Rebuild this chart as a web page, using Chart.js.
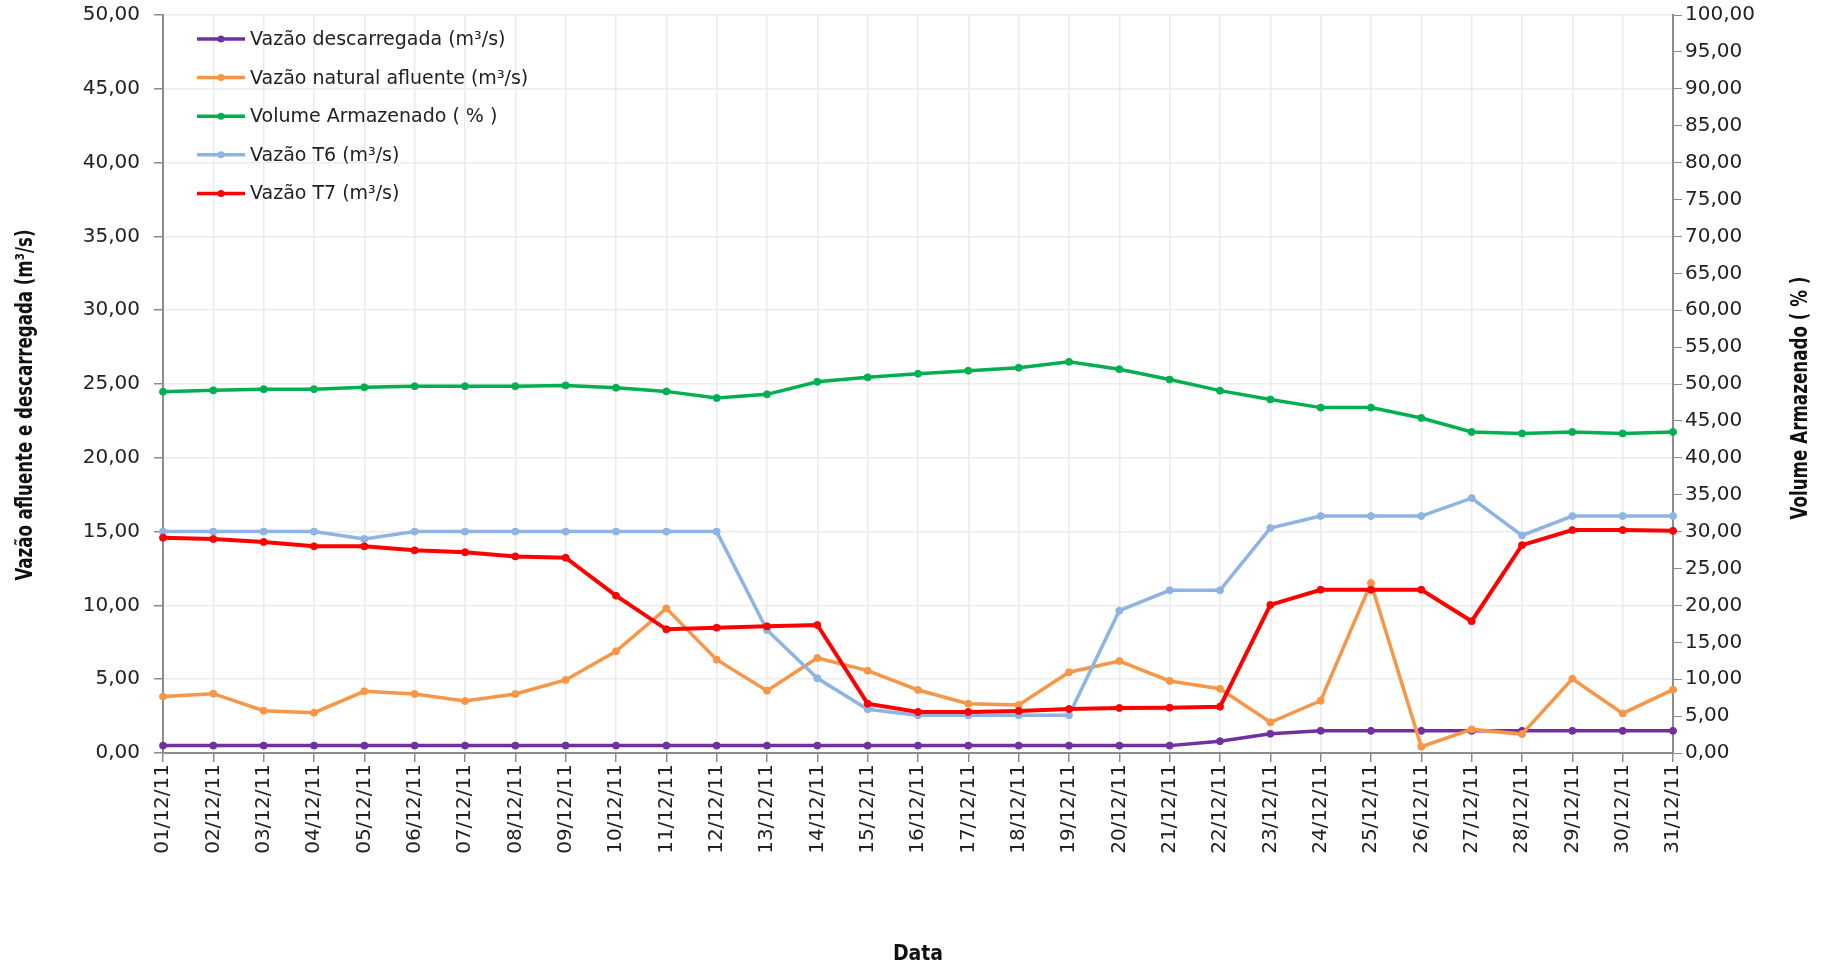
<!DOCTYPE html>
<html>
<head>
<meta charset="utf-8">
<title>Vazões e Volume Armazenado - Dezembro 2011</title>
<script src="https://cdn.jsdelivr.net/npm/chart.js@4.4.1/dist/chart.umd.min.js"></script>
<style>
  html, body { margin: 0; padding: 0; background: #ffffff; }
  #wrap { position: relative; width: 1822px; height: 970px; }
</style>
</head>
<body>
<div id="wrap"><canvas id="volumeChart" width="1822" height="970"></canvas></div>
<script>
const dias = [
  "01/12/11", "02/12/11", "03/12/11", "04/12/11", "05/12/11", "06/12/11", "07/12/11", "08/12/11",
  "09/12/11", "10/12/11", "11/12/11", "12/12/11", "13/12/11", "14/12/11", "15/12/11", "16/12/11",
  "17/12/11", "18/12/11", "19/12/11", "20/12/11", "21/12/11", "22/12/11", "23/12/11", "24/12/11",
  "25/12/11", "26/12/11", "27/12/11", "28/12/11", "29/12/11", "30/12/11", "31/12/11"
];

// m³/s (eixo esquerdo)
const vazaoDescarregada = [
  0.5, 0.5, 0.5, 0.5, 0.5, 0.5, 0.5, 0.5, 0.5, 0.5, 0.5, 0.5, 0.5, 0.5, 0.5, 0.5,
  0.5, 0.5, 0.5, 0.5, 0.5, 0.8, 1.3, 1.5, 1.5, 1.5, 1.5, 1.5, 1.5, 1.5, 1.5
];
const vazaoNatural = [
  3.82, 4.02, 2.87, 2.73, 4.18, 4.0, 3.52, 4.0, 4.95, 6.89, 9.8, 6.32, 4.22, 6.44, 5.58, 4.27,
  3.34, 3.25, 5.47, 6.23, 4.88, 4.35, 2.08, 3.54, 11.51, 0.43, 1.6, 1.28, 5.03, 2.68, 4.29
];
const vazaoT6 = [
  15, 15, 15, 15, 14.5, 15, 15, 15, 15, 15, 15, 15, 8.33, 5.06, 2.96, 2.55,
  2.55, 2.55, 2.55, 9.64, 11.02, 11.02, 15.24, 16.05, 16.05, 16.05, 17.27, 14.74, 16.05, 16.05, 16.05
];
const vazaoT7 = [
  14.59, 14.5, 14.3, 14.0, 14.0, 13.73, 13.6, 13.32, 13.23, 10.66, 8.38, 8.49, 8.58, 8.67, 3.34, 2.78,
  2.78, 2.85, 2.98, 3.05, 3.07, 3.14, 10.03, 11.06, 11.06, 11.06, 8.93, 14.08, 15.1, 15.1, 15.05
];

// % (eixo direito)
const volumeArmazenado = [
  48.96, 49.14, 49.3, 49.3, 49.55, 49.7, 49.7, 49.7, 49.8, 49.5, 49.0, 48.1, 48.6, 50.3, 50.9, 51.4,
  51.8, 52.2, 53.0, 52.0, 50.6, 49.1, 47.9, 46.8, 46.8, 45.4, 43.5, 43.3, 43.5, 43.3, 43.5
];

const tickFont = { family: "'DejaVu Sans', Verdana, sans-serif", size: 20 };
const titleFamily = "'DejaVu Sans Condensed', 'DejaVu Sans', sans-serif";
const gridColor = "#ebebeb";
const axisColor = "#8c8c8c";

function formatBR(value) {
  return Number(value).toFixed(2).replace(".", ",");
}

function serie(label, data, color, axis, order, width) {
  return {
    label: label,
    data: data,
    yAxisID: axis,
    order: order,
    borderColor: color,
    backgroundColor: color,
    borderWidth: width,
    pointRadius: 3.5,
    pointBorderWidth: 1,
    pointBackgroundColor: color,
    pointBorderColor: color,
    tension: 0,
    fill: false,
  };
}

// legenda desenhada dentro da área do gráfico, canto superior esquerdo
const innerLegend = {
  id: "innerLegend",
  afterDraw(chart) {
    const ctx = chart.ctx;
    const area = chart.chartArea;
    ctx.save();
    ctx.font = "19px 'DejaVu Sans', Verdana, sans-serif";
    ctx.textBaseline = "middle";
    ctx.textAlign = "left";
    chart.data.datasets.forEach((ds, i) => {
      const y = area.top + 24 + i * 38.6;
      const x0 = area.left + 34;
      ctx.strokeStyle = ds.borderColor;
      ctx.lineWidth = 3.5;
      ctx.beginPath();
      ctx.moveTo(x0, y);
      ctx.lineTo(x0 + 48, y);
      ctx.stroke();
      ctx.fillStyle = ds.borderColor;
      ctx.beginPath();
      ctx.arc(x0 + 24, y, 3.5, 0, Math.PI * 2);
      ctx.fill();
      ctx.fillStyle = "#222222";
      ctx.fillText(ds.label, x0 + 53, y + 1);
    });
    ctx.restore();
  },
};

// títulos verticais estreitos, lidos de baixo para cima como no original
function drawVerticalTitle(ctx, text, cx, cy, length) {
  ctx.save();
  ctx.translate(cx, cy);
  ctx.rotate(-Math.PI / 2);
  ctx.font = "bold 23px " + titleFamily;
  const w = ctx.measureText(text).width;
  ctx.scale(length / w, 1);
  ctx.fillStyle = "#111111";
  ctx.textAlign = "center";
  ctx.textBaseline = "middle";
  ctx.fillText(text, 0, 0);
  ctx.restore();
}

const axisTitles = {
  id: "axisTitles",
  afterDraw(chart) {
    const ctx = chart.ctx;
    drawVerticalTitle(ctx, "Vazão afluente e descarregada (m³/s)", 26, 405, 351);
    drawVerticalTitle(ctx, "Volume Armazenado ( % )", 1801, 398, 243);
  },
};

// largura fixa do eixo e sem folga extra no topo
function fixWidth(width) {
  return function (scale) {
    scale.width = width;
    scale.paddingTop = 0;
    scale.paddingBottom = 0;
  };
}

const ctx = document.getElementById("volumeChart").getContext("2d");

new Chart(ctx, {
  type: "line",
  data: {
    labels: dias,
    datasets: [
      serie("Vazão descarregada (m³/s)", vazaoDescarregada, "#7030a0", "y", 4, 3.5),
      serie("Vazão natural afluente (m³/s)", vazaoNatural, "#f79646", "y", 3, 3.5),
      serie("Volume Armazenado ( % )", volumeArmazenado, "#00b050", "y2", 2, 3.5),
      serie("Vazão T6 (m³/s)", vazaoT6, "#8db4e2", "y", 1, 3.5),
      serie("Vazão T7 (m³/s)", vazaoT7, "#ff0000", "y", 0, 4),
    ],
  },
  options: {
    responsive: false,
    animation: false,
    layout: { padding: { top: 15, right: 0, bottom: 0, left: 0 } },
    plugins: {
      legend: { display: false },
      tooltip: { enabled: false },
    },
    scales: {
      x: {
        offset: false,
        grid: { color: gridColor, lineWidth: 1.5, tickColor: axisColor, tickLength: 9 },
        border: { display: true, color: axisColor, width: 2 },
        ticks: {
          autoSkip: false,
          minRotation: 90,
          maxRotation: 90,
          padding: 2,
          color: "#222222",
          font: tickFont,
        },
        title: {
          display: true,
          text: "Data",
          color: "#111111",
          font: { family: titleFamily, size: 21, weight: "bold" },
          padding: { top: 4, bottom: 3 },
        },
        afterFit: function (scale) {
          scale.height = 217;
        },
      },
      y: {
        position: "left",
        min: 0,
        max: 50,
        grid: { color: gridColor, lineWidth: 1.5, tickColor: axisColor, tickLength: 9 },
        border: { display: true, color: axisColor, width: 2 },
        ticks: {
          stepSize: 5,
          padding: 14,
          color: "#222222",
          font: tickFont,
          callback: formatBR,
        },
        afterFit: fixWidth(163),
      },
      y2: {
        position: "right",
        min: 0,
        max: 100,
        grid: { drawOnChartArea: false, tickColor: axisColor, tickLength: 9 },
        border: { display: true, color: axisColor, width: 2 },
        ticks: {
          stepSize: 5,
          padding: 3,
          color: "#222222",
          font: tickFont,
          callback: formatBR,
        },
        afterFit: fixWidth(149),
      },
    },
  },
  plugins: [innerLegend, axisTitles],
});
</script>
</body>
</html>
